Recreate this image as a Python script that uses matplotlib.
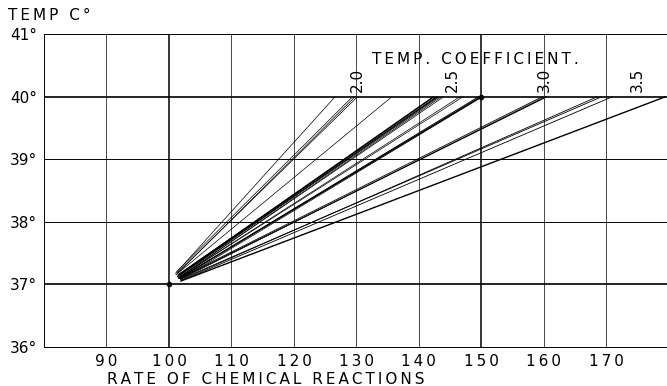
import matplotlib
matplotlib.use("Agg")
import matplotlib.pyplot as plt

# Rate of chemical reaction at 40 deg C, relative to 100 at 37 deg C
end_rate = [126.6, 129.4, 129.8, 130.2, 135.7, 142.4, 142.8, 143.0, 143.3,
            143.6, 144.0, 146.6, 147.1, 149.6, 150.0, 150.2, 159.8, 160.2,
            160.5, 168.6, 169.3, 171.0, 179.5]
start_rate = [101.0, 101.2, 101.1, 101.3, 101.2, 101.4, 101.5, 101.3, 101.6,
              101.5, 101.7, 101.4, 101.6, 101.5, 101.7, 101.8, 101.6, 101.8,
              101.7, 101.9, 101.8, 102.0, 101.8]
start_temp = [37.17, 37.20, 37.15, 37.18, 37.16, 37.14, 37.16, 37.12, 37.13,
              37.10, 37.12, 37.10, 37.11, 37.09, 37.10, 37.08, 37.10, 37.08,
              37.09, 37.07, 37.08, 37.06, 37.05]
widths = [0.5, 0.5, 0.5, 0.5, 0.5, 1.1, 0.5, 0.9, 0.5, 0.5, 0.5, 0.5, 0.5,
          0.7, 1.0, 0.5, 0.6, 0.5, 0.8, 0.6, 0.6, 0.6, 1.0]
end_temp = 40.0

coef_labels = ["2.0", "2.5", "3.0", "3.5"]
coef_pos = [130.1, 145.3, 160.0, 174.9]

x_ticks = [90, 100, 110, 120, 130, 140, 150, 160, 170]
y_ticks = [36, 37, 38, 39, 40, 41]


def spaced(s):
    """Open up the lettering with thin spaces between characters."""
    return "\u2009".join(s)


W, H = 667, 386
fig = plt.figure(figsize=(W / 100, H / 100), dpi=100)
ax = fig.add_axes([44 / W, 1 - 347 / H, 623 / W, 313 / H])
ax.set_xlim(80, 179.7)
ax.set_ylim(36, 41)

# grid: heavier rules through the reference point and the 40 deg line
for xv in x_ticks:
    lw = 1.1 if xv in (100, 150) else 0.5
    ax.axvline(xv, color="black", lw=lw, zorder=1)
for yv in y_ticks[1:-1]:
    lw = 1.2 if yv in (37, 40) else 0.7
    ax.axhline(yv, color="black", lw=lw, zorder=1)

for sx, sy, ex, w in zip(start_rate, start_temp, end_rate, widths):
    ax.plot([sx, ex], [sy, end_temp], color="black", lw=w,
            solid_capstyle="butt", zorder=2)

ax.plot([100, 150], [37, 40], "o", color="black", ms=3, zorder=3)

for lab, xp in zip(coef_labels, coef_pos):
    ax.text(xp, 40.07, lab, rotation=90, ha="center", va="bottom",
            fontsize=11)
ax.text(149, 40.6, spaced("TEMP. COEFFICIENT."), ha="center", va="center",
        fontsize=11)

for side in ("left", "top", "bottom"):
    ax.spines[side].set_linewidth(0.7)
ax.spines["right"].set_visible(False)

ax.set_xticks(x_ticks)
ax.set_xticklabels([spaced(str(v)) for v in x_ticks])
ax.set_yticks(y_ticks)
ax.set_yticklabels([f"{v}°" for v in y_ticks])
ax.tick_params(length=0, labelsize=11, pad=5)

fig.text(8 / W, 1 - 15 / H, spaced("TEMP C°"), ha="left", va="center",
         fontsize=11)
fig.text(266 / W, 1 - 379 / H, spaced("RATE OF CHEMICAL REACTIONS"),
         ha="center", va="center", fontsize=11)

fig.savefig("out.png", dpi=100, facecolor="white")
